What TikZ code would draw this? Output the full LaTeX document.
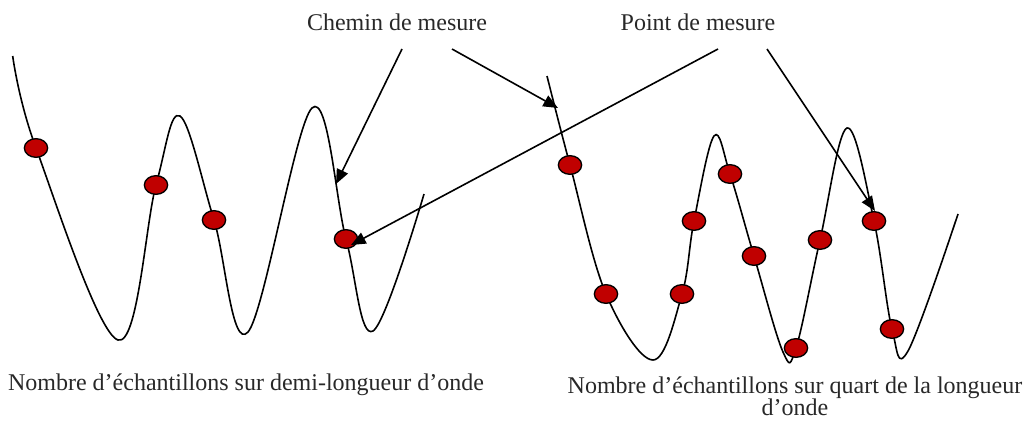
\documentclass[tikz,border=0pt]{standalone}
\usepackage{fontspec}
\setmainfont{Liberation Serif}
\usetikzlibrary{arrows.meta,shapes.geometric}
\definecolor{dotred}{RGB}{192,0,0}
\definecolor{textgray}{RGB}{40,40,40}
\tikzset{
  wave/.style={line width=1.2pt, black},
  sample/.style={ellipse, draw=black, line width=1pt, fill=dotred, minimum width=17.5pt, minimum height=14pt, inner sep=0pt},
  pointer/.style={line width=1.2pt, -{Triangle[length=11pt,width=9pt]}},
  label/.style={font=\fontsize{18pt}{16.5pt}\selectfont, text=textgray, inner sep=0pt}
}
\begin{document}
\begin{tikzpicture}[x=0.75pt,y=-0.75pt]
\useasboundingbox (0,0) rectangle (1029,432);
% left wave
\draw[wave] plot[smooth, tension=0.6] coordinates {(12.7,56) (36,148) (118,340) (156,185) (180,116) (214,220) (248,332) (312,108) (346,239) (373,331) (424,194)};
% right wave
\draw[wave] plot[smooth, tension=0.6] coordinates {(547,76) (570,165) (606,294) (653,360) (682,294) (694,221) (714,136) (730,174) (754,256) (783,352) (796,348) (820,240) (847,128) (874,221) (892,329) (908,351) (958,214)};
% samples
\node[sample] (l1) at (36,148) {};
\node[sample] (l2) at (156,185) {};
\node[sample] (l3) at (214,220) {};
\node[sample] (l4) at (346,239) {};
\node[sample] (r1) at (570,165) {};
\node[sample] (r2) at (606,294) {};
\node[sample] (r3) at (682,294) {};
\node[sample] (r4) at (694,221) {};
\node[sample] (r5) at (730,174) {};
\node[sample] (r6) at (754,256) {};
\node[sample] (r7) at (796,348) {};
\node[sample] (r8) at (820,240) {};
\node[sample] (r9) at (874,221) {};
\node[sample] (r10) at (892,329) {};
% labels
\node[label] (chemin) at (397,22) {Chemin de mesure};
\node[label] (point) at (698,22) {Point de mesure};
\node[label] (demi) at (246,385) {Nombre d’échantillons sur demi-longueur d’onde};
\node[label, align=center] (quart) at (795,396) {Nombre d’échantillons sur quart de la longueur\\d’onde};
% arrow endpoints
\coordinate (c1) at (402,49);
\coordinate (c2) at (452,49);
\coordinate (p1) at (718,49);
\coordinate (p2) at (767,49);
\coordinate (t1) at (336,184);
\coordinate (t2) at (558,108);
\coordinate (t3) at (351,245);
\coordinate (t4) at (875,211);
\draw[pointer] (c1) -- (t1);
\draw[pointer] (c2) -- (t2);
\draw[pointer] (p1) -- (t3);
\draw[pointer] (p2) -- (t4);
\end{tikzpicture}
\end{document}
